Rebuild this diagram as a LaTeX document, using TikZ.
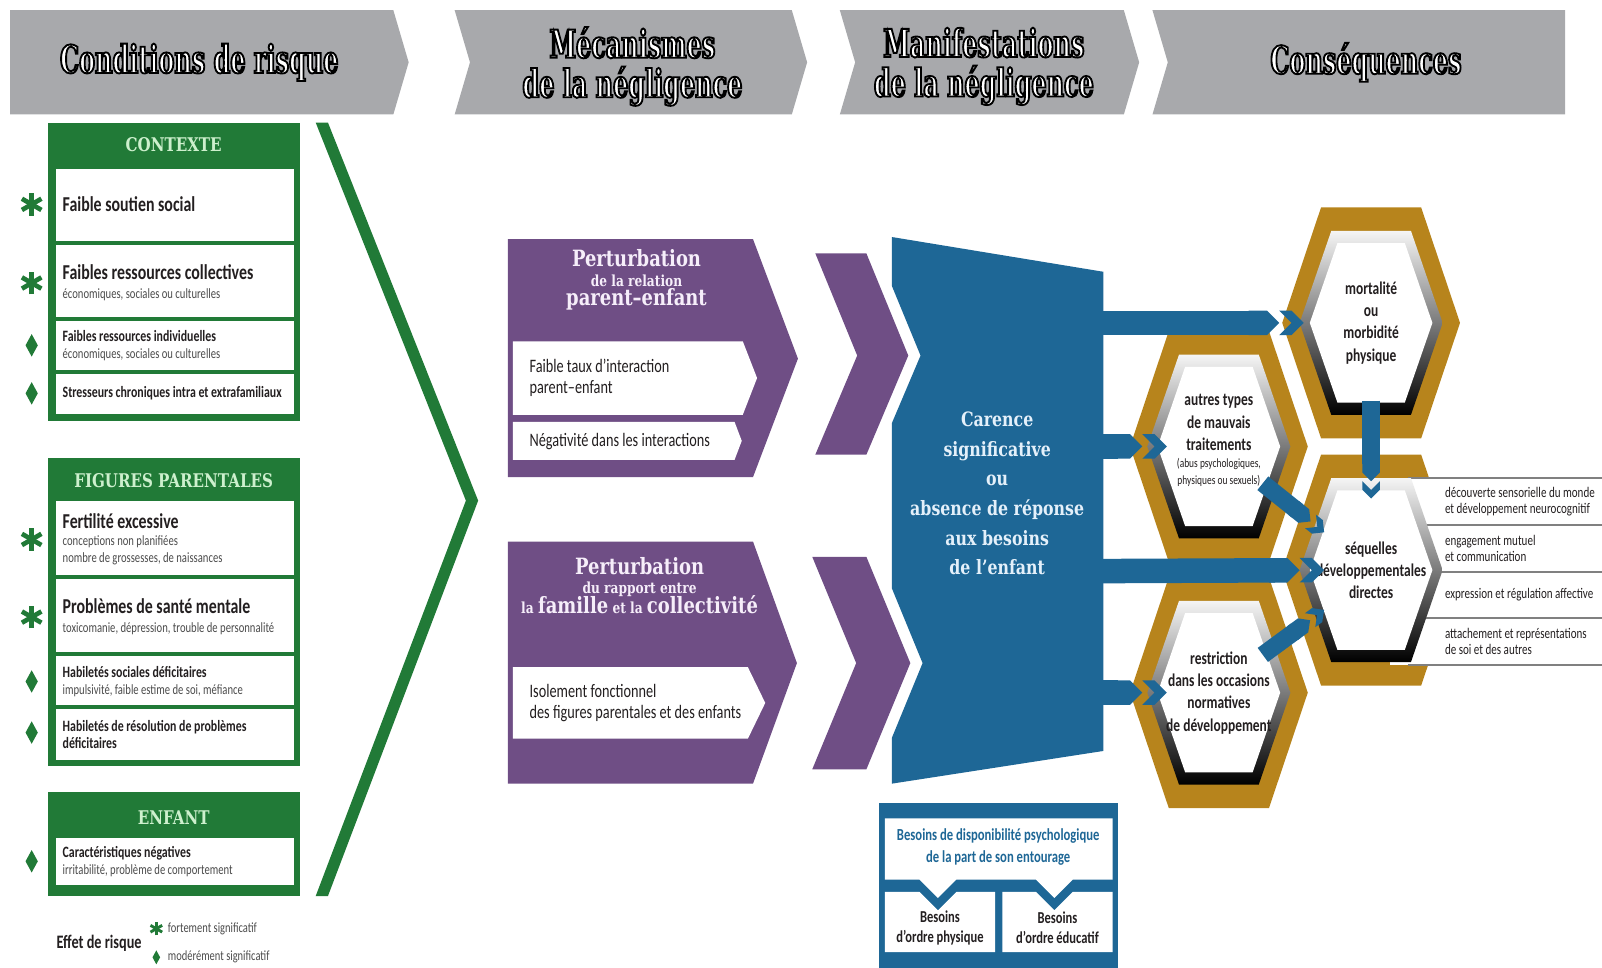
\documentclass[tikz,border=0pt]{standalone}
\usepackage{fontspec}
\setmainfont{Carlito}[FakeStretch=0.75]
\newfontfamily\slabfont{DejaVu Serif}[FakeStretch=0.8]
\newfontfamily\titlefont{DejaVu Serif}[FakeStretch=0.62, FakeBold=4.8]
\usetikzlibrary{calc,positioning,arrows.meta}

\definecolor{hdrgray}{RGB}{168,169,172}
\definecolor{riskgreen}{RGB}{33,122,55}
\definecolor{lightgreen}{RGB}{205,240,205}
\definecolor{mechpurple}{RGB}{111,78,133}
\definecolor{lilac}{RGB}{246,238,250}
\definecolor{needblue}{RGB}{30,103,150}
\definecolor{paleblue}{RGB}{228,240,250}
\definecolor{gold}{RGB}{183,132,28}
\definecolor{inkdark}{RGB}{35,31,32}
\definecolor{inksoft}{RGB}{75,75,75}

\tikzstyle{hdr}        = [font=\titlefont\bfseries\fontsize{21.5}{22}\selectfont, text=white, align=center, inner sep=0pt]
\tikzstyle{boxhead}    = [font=\slabfont\bfseries\fontsize{10.5}{12}\selectfont, text=lightgreen, inner sep=0pt]
\tikzstyle{rowtext}    = [anchor=west, align=left, inner sep=0pt, text=inkdark, font=\fontsize{8}{9.5}\selectfont]
\tikzstyle{mechtitle}  = [font=\slabfont\bfseries, text=lilac, align=center, inner sep=0pt]
\tikzstyle{mechtext}   = [anchor=west, align=left, inner sep=0pt, text=inkdark, font=\fontsize{10.6}{11.5}\selectfont]
\tikzstyle{carencetxt} = [font=\slabfont\bfseries\fontsize{11}{16.5}\selectfont, text=paleblue, align=center, inner sep=0pt]
\tikzstyle{hextext}    = [font=\bfseries\fontsize{10}{12.4}\selectfont, text=inkdark, align=center, inner sep=0pt]
\tikzstyle{tabtext}    = [anchor=west, align=left, inner sep=0pt, text=inkdark, font=\fontsize{8.2}{9}\selectfont]
\tikzstyle{needtxt}    = [font=\bfseries\fontsize{9.4}{12}\selectfont, text=needblue, align=center, inner sep=0pt]
\tikzstyle{needsub}    = [font=\bfseries\fontsize{9.3}{11}\selectfont, text=inkdark, align=center, inner sep=0pt]
\tikzstyle{needbar}    = [draw=needblue, line width=0.48cm, -{Triangle Cap[] . Fast Triangle[]}]
\tikzstyle{linkbar}    = [draw=needblue, line width=0.34cm, -{Triangle Cap[] . Fast Triangle[]}]
\tikzstyle{markline}   = [line width=2.6pt]
\tikzstyle{legendtxt}  = [anchor=west, font=\fontsize{7.8}{9}\selectfont, text=inksoft, inner sep=0pt]

% contour noir du texte blanc des bandeaux
\newcommand{\inked}[1]{\special{pdf:literal direct 0 0 0 RG}#1}
\newcommand{\riskmain}[1]{{\fontsize{11.8}{13}\selectfont\bfseries #1}}
\newcommand{\riskminor}[1]{{\fontsize{8.8}{9.8}\selectfont\bfseries #1}}
\newcommand{\riskdetail}[1]{{\fontsize{7.9}{9}\selectfont\color{inksoft}#1}}

\tikzset{
  strongmark/.pic={\foreach \a in {90,30,150} \draw[riskgreen,markline] (\a:11) -- (\a+180:11);},
  moderatemark/.pic={\fill[riskgreen] (0,-11) -- (6,0) -- (0,11) -- (-6,0) -- cycle;},
  hexgold/.pic={\fill[gold] (-87,0) -- (-49,-113) -- (49,-113) -- (87,0) -- (49,113) -- (-49,113) -- cycle;},
  hexface/.pic={
    \shade[top color=gray!8, middle color=gray!55, bottom color=black]
      (-70,0) -- (-39,-90) -- (39,-90) -- (70,0) -- (39,90) -- (-39,90) -- cycle;
    \fill[white] (-60,0) -- (-33,-78) -- (33,-78) -- (60,0) -- (33,78) -- (-33,78) -- cycle;}
}

\begin{document}
\begin{tikzpicture}[x=0.02cm,y=-0.02cm]
    \useasboundingbox (0,0) rectangle (1568,947);

    % headers
    \fill[hdrgray] (10,10) -- (385,10) -- (400,61) -- (385,112) -- (10,112) -- cycle;
    \fill[hdrgray] (445,10) -- (775,10) -- (790,61) -- (775,112) -- (445,112) -- (460,61) -- cycle;
    \fill[hdrgray] (822,10) -- (1100,10) -- (1115,61) -- (1100,112) -- (822,112) -- (837,61) -- cycle;
    \fill[hdrgray] (1128,10) -- (1532,10) -- (1532,112) -- (1128,112) -- (1143,61) -- cycle;
    \node[hdr] (hrisk) at (195,61) {\inked{Conditions de risque}};
    \node[hdr] (hmech) at (619,65) {\inked{Mécanismes\\de la négligence}};
    \node[hdr] (hmanif) at (963,65) {\inked{Manifestations\\de la négligence}};
    \node[hdr] (hcons) at (1337,61) {\inked{Conséquences}};

    % contexte
    \fill[riskgreen] (47,120) rectangle (294,412);
    \node[boxhead] (ctxhead) at (170,142) {CONTEXTE};
    \fill[white] (55,165) rectangle (288,236);
    \fill[white] (55,240) rectangle (288,310);
    \fill[white] (55,314) rectangle (288,362);
    \fill[white] (55,366) rectangle (288,405);
    \node[rowtext] (soutien) at (61,200) {\riskmain{Faible soutien social}};
    \node[rowtext] (collect) at (61,277) {\riskmain{Faibles ressources collectives}\\[1pt]\riskdetail{économiques, sociales ou culturelles}};
    \node[rowtext] (indiv) at (61,338) {\riskminor{Faibles ressources individuelles}\\\riskdetail{économiques, sociales ou culturelles}};
    \node[rowtext] (stress) at (61,385) {\riskminor{Stresseurs chroniques intra et extrafamiliaux}};
    \pic at (31,200) {strongmark};
    \pic at (31,277) {strongmark};
    \pic at (31,338) {moderatemark};
    \pic at (31,385) {moderatemark};

    % figures parentales
    \fill[riskgreen] (47,448) rectangle (294,750);
    \node[boxhead] (parhead) at (170,470) {FIGURES PARENTALES};
    \fill[white] (55,490) rectangle (288,563);
    \fill[white] (55,567) rectangle (288,638);
    \fill[white] (55,642) rectangle (288,690);
    \fill[white] (55,694) rectangle (288,744);
    \node[rowtext] (fertil) at (61,528) {\riskmain{Fertilité excessive}\\\riskdetail{conceptions non planifiées}\\\riskdetail{nombre de grossesses, de naissances}};
    \node[rowtext] (mental) at (61,604) {\riskmain{Problèmes de santé mentale}\\[1pt]\riskdetail{toxicomanie, dépression, trouble de personnalité}};
    \node[rowtext] (social) at (61,667) {\riskminor{Habiletés sociales déficitaires}\\\riskdetail{impulsivité, faible estime de soi, méfiance}};
    \node[rowtext] (resol) at (61,719) {\riskminor{Habiletés de résolution de problèmes}\\\riskminor{déficitaires}};
    \pic at (31,528) {strongmark};
    \pic at (31,604) {strongmark};
    \pic at (31,667) {moderatemark};
    \pic at (31,717) {moderatemark};

    % enfant
    \fill[riskgreen] (47,775) rectangle (294,877);
    \node[boxhead] (enfhead) at (170,800) {ENFANT};
    \fill[white] (55,820) rectangle (288,866);
    \node[rowtext] (caract) at (61,843) {\riskminor{Caractéristiques négatives}\\\riskdetail{irritabilité, problème de comportement}};
    \pic at (31,843) {moderatemark};

    % legende
    \node[font=\bfseries\fontsize{10.6}{12}\selectfont, text=inkdark, inner sep=0pt] (effet) at (97,923) {Effet de risque};
    \pic[scale=0.6, markline/.style={line width=1.6pt}] at (153,909) {strongmark};
    \pic[scale=0.62] at (153,937) {moderatemark};
    \node[legendtxt] (fort) at (164,909) {fortement significatif};
    \node[legendtxt] (modere) at (164,937) {modérément significatif};

    % grand chevron vert
    \fill[riskgreen] (309,120) -- (321,120) -- (468,490) -- (321,877) -- (309,877) -- (456,490) -- cycle;

    % mecanismes
    \fill[mechpurple] (497,234) -- (737,234) -- (781,351) -- (737,467) -- (497,467) -- cycle;
    \node[mechtitle] (pert1) at (623,274) {{\fontsize{12.5}{14}\selectfont Perturbation}\\[-1pt]{\fontsize{8.5}{10}\selectfont de la relation}\\[-1pt]{\fontsize{12.5}{14}\selectfont parent–enfant}};
    \fill[white] (502,334) -- (727,334) -- (741,370) -- (727,406) -- (502,406) -- cycle;
    \fill[white] (502,413) -- (719,413) -- (726,431.5) -- (719,450) -- (502,450) -- cycle;
    \node[mechtext] (taux) at (518,370) {Faible taux d’interaction\\parent–enfant};
    \node[mechtext] (negat) at (518,432) {Négativité dans les interactions};
    \fill[mechpurple] (798,248) -- (848,248) -- (889,348) -- (848,445) -- (798,445) -- (839,348) -- cycle;

    \fill[mechpurple] (497,530) -- (737,530) -- (780,649) -- (737,767) -- (497,767) -- cycle;
    \node[mechtitle] (pert2) at (626,573) {{\fontsize{12.5}{14}\selectfont Perturbation}\\[-1pt]{\fontsize{8.5}{10}\selectfont du rapport entre}\\[-1pt]{\fontsize{8.5}{10}\selectfont la {\fontsize{12.5}{14}\selectfont famille} et la {\fontsize{12.5}{14}\selectfont collectivité}}};
    \fill[white] (502,653) -- (732,653) -- (749,688) -- (732,723) -- (502,723) -- cycle;
    \node[mechtext] (isol) at (518,688) {Isolement fonctionnel\\des figures parentales et des enfants};
    \fill[mechpurple] (795,545) -- (848,545) -- (891,649) -- (848,753) -- (795,753) -- (838,649) -- cycle;

    % manifestations
    \fill[needblue] (873,232) -- (1080,266) -- (1080,735) -- (873,767) -- (873,722) -- (903,649) -- (873,576)
        -- (873,414) -- (901,348) -- (873,280) -- cycle;
    \node[carencetxt] (carence) at (976,483) {Carence\\significative\\ou\\absence de réponse\\aux besoins\\de l’enfant};
    \coordinate (outA) at (1070,316);
    \coordinate (outB) at (1070,437);
    \coordinate (outC) at (1070,559);
    \coordinate (outD) at (1070,678);

    % besoins
    \fill[needblue] (860,786) rectangle (1094,947);
    \fill[white] (866,801) -- (1089,801) -- (1089,861) -- (1050,861) -- (1032,879) -- (1014,861) -- (936,861)
        -- (918,879) -- (900,861) -- (866,861) -- cycle;
    \fill[white] (866,873) -- (900,873) -- (918,891) -- (936,873) -- (974,873) -- (974,932) -- (866,932) -- cycle;
    \fill[white] (981,873) -- (1014,873) -- (1032,891) -- (1050,873) -- (1089,873) -- (1089,932) -- (981,932) -- cycle;
    \node[needtxt] (dispo) at (977,829) {Besoins de disponibilité psychologique\\de la part de son entourage};
    \node[needsub] (physi) at (920,908) {Besoins\\d’ordre physique};
    \node[needsub] (educ) at (1035,908) {Besoins\\d’ordre éducatif};

    % consequences
    \coordinate (hexA) at (1342,316);
    \coordinate (hexB) at (1193,437);
    \coordinate (hexC) at (1342,558);
    \coordinate (hexD) at (1193,678);
    \pic at (hexC) {hexgold};
    \fill[white] (1360,468) rectangle (1568,651);
    \foreach \y in {468,514,560,605,651}
        \draw[gray, line width=1.2pt] (1378,\y) -- (1568,\y);
    \pic at (hexA) {hexgold};
    \pic at (hexB) {hexgold};
    \pic at (hexD) {hexgold};
    \foreach \h in {hexA,hexB,hexC,hexD}
        \pic at (\h) {hexface};

    \node[hextext] (mortal) at (hexA) {mortalité\\ou\\morbidité\\physique};
    \node[hextext] (autres) at ($(hexB)+(0,-6)$) {autres types\\de mauvais\\traitements\\[-3pt]{\fontsize{7}{8.5}\selectfont\mdseries (abus psychologiques,}\\[-3pt]{\fontsize{7}{8.5}\selectfont\mdseries physiques ou sexuels)}};
    \node[hextext] (sequel) at (hexC) {séquelles\\développementales\\directes};
    \node[hextext] (restrict) at (hexD) {restriction\\dans les occasions\\normatives\\de développement};

    \node[tabtext] (decouv) at (1414,491) {découverte sensorielle du monde\\et développement neurocognitif};
    \node[tabtext] (engag) at (1414,537) {engagement mutuel\\et communication};
    \node[tabtext] (express) at (1414,582) {expression et régulation affective};
    \node[tabtext] (attach) at (1414,628) {attachement et représentations\\de soi et des autres};

    \draw[needbar] (outA) -- ($(hexA)+(-66,0)$);
    \draw[needbar] (outB) -- ($(hexB)+(-51,0)$);
    \draw[needbar] (outC) -- ($(hexC)+(-46,0)$);
    \draw[needbar] (outD) -- ($(hexD)+(-51,0)$);
    \draw[linkbar] ($(hexA)+(0,76)$) -- ($(hexC)+(0,-70)$);
    \draw[linkbar] ($(hexB)+(43,36)$) -- ($(hexC)+(-46,-37)$);
    \draw[linkbar] ($(hexD)+(43,-37)$) -- ($(hexC)+(-46,39)$);
\end{tikzpicture}
\end{document}
